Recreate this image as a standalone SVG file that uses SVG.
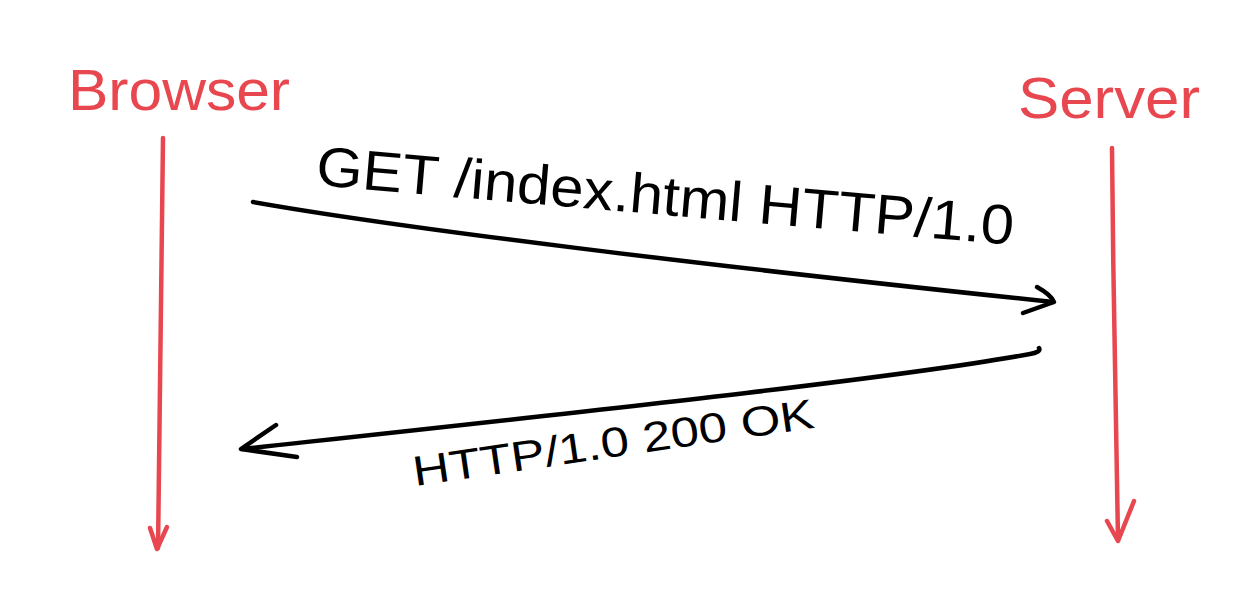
<svg xmlns="http://www.w3.org/2000/svg" width="1250" height="596" viewBox="0 0 1250 596">
<style>
.red{fill:none;stroke:#e8474f;stroke-width:4.5;stroke-linecap:round;stroke-linejoin:round}
.blk{fill:none;stroke:#000;stroke-width:4.5;stroke-linecap:round;stroke-linejoin:round}
.lbl{font-family:"Liberation Sans","DejaVu Sans",sans-serif;fill:#e8474f}
.msg{font-family:"Liberation Sans","DejaVu Sans",sans-serif;fill:#000}
</style>
<rect width="1250" height="596" fill="#fff"/>
<g id="browser">
<text class="lbl" x="68" y="110" font-size="58" textLength="222" lengthAdjust="spacingAndGlyphs">Browser</text>
<path class="red" d="M163,138 C162,250 160,400 158,548"/>
<path class="red" d="M150,528 L157,549 L167,527"/>
</g>
<g id="server">
<text class="lbl" x="1018" y="118" font-size="58" textLength="182" lengthAdjust="spacingAndGlyphs">Server</text>
<path class="red" d="M1112,148 C1113,280 1116,420 1118,540"/>
<path class="red" d="M1107,521 L1118,541 L1134,501"/>
</g>
<g id="connectors">
<path class="blk" d="M253,202 C400,228 700,265 1053,302"/>
<path class="blk" d="M1037,287 C1046,292 1052,297 1054,302 L1023,313"/>
<path class="blk" d="M1039,348 C1041,351 1036,353 1030,354 C900,378 600,410 242,449"/>
<path class="blk" d="M276,425 L241,449 L297,457"/>
<text class="msg" transform="translate(315,185) rotate(4.9)" font-size="56" textLength="700" lengthAdjust="spacingAndGlyphs">GET /index.html HTTP/1.0</text>
<text class="msg" transform="translate(415,486) rotate(-8.3)" font-size="42" textLength="405" lengthAdjust="spacingAndGlyphs">HTTP/1.0 200 OK</text>
</g>
</svg>
